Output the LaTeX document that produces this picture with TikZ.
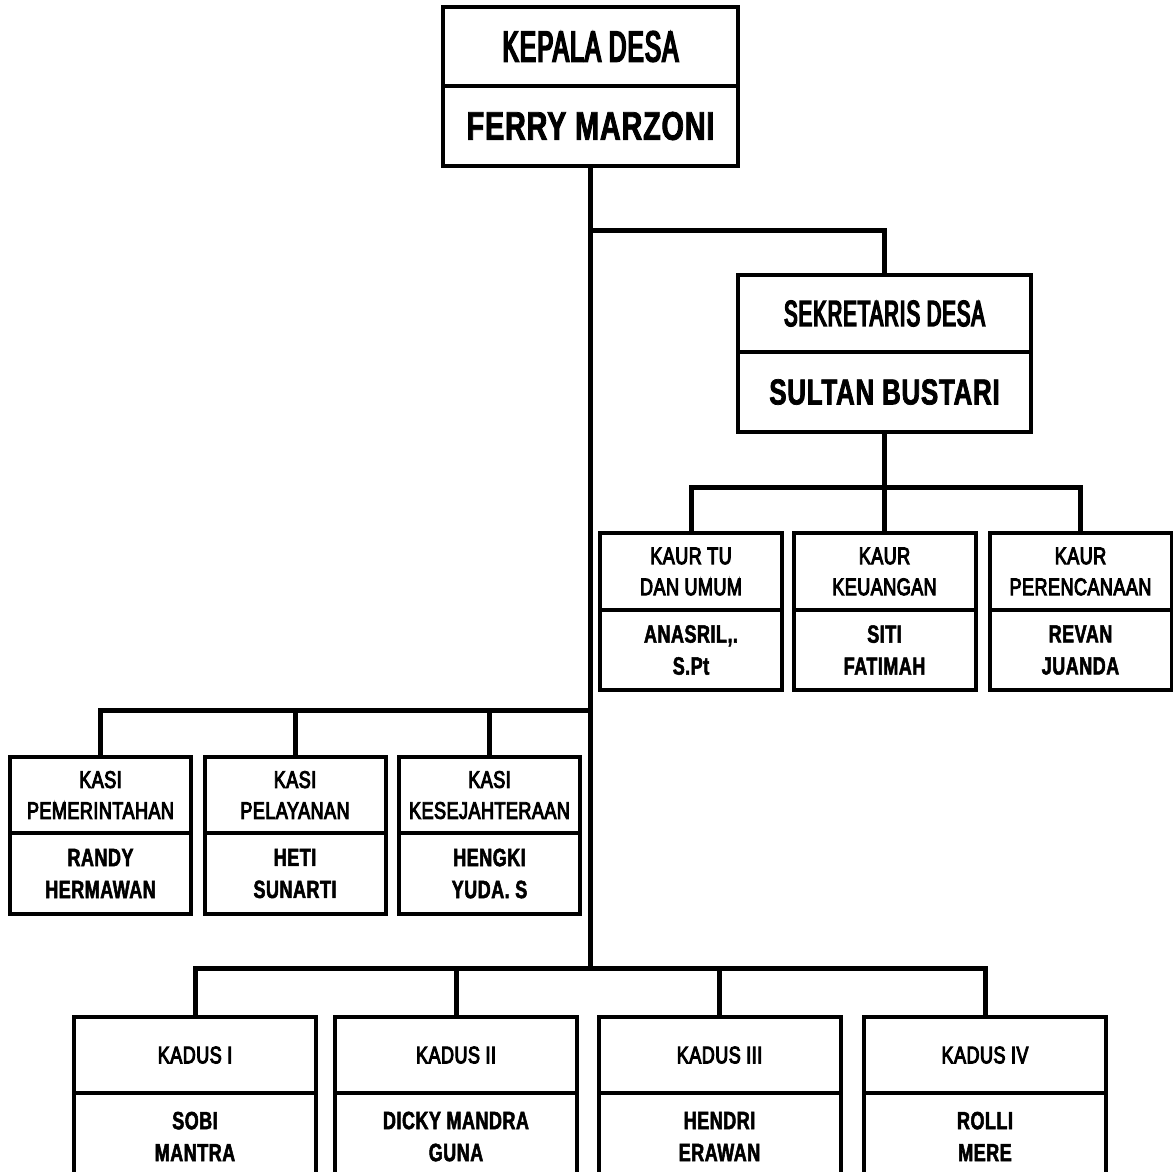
\documentclass[tikz,border=0pt]{standalone}
\usepackage{fontspec}
\setmainfont{Liberation Sans}
\newfontfamily\hurufjudul[FakeStretch=0.56,FakeBold=4.5,LetterSpace=3]{Liberation Sans}
\newfontfamily\hurufkecil[FakeStretch=0.75,FakeBold=4,LetterSpace=2]{Liberation Sans}
\newfontfamily\hurufnama[FakeStretch=0.72,FakeBold=2,LetterSpace=2]{Liberation Sans}
\usetikzlibrary{positioning}
\tikzset{
    kotak/.style={draw, line width=4pt, outer sep=0pt, inner sep=0pt, align=center},
    garis/.style={line width=5pt},
    judulbesar/.style={kotak, font=\hurufjudul\fontsize{43}{50}\selectfont},
    judulsekdes/.style={kotak, font=\hurufjudul\fontsize{36}{42}\selectfont},
    namabesar/.style={kotak, font=\hurufnama\bfseries\fontsize{40}{46}\selectfont},
    namasekdes/.style={kotak, font=\hurufnama\bfseries\fontsize{36}{42}\selectfont},
    judulkecil/.style={kotak, font=\hurufkecil\fontsize{24}{31}\selectfont},
    namakecil/.style={kotak, font=\hurufnama\bfseries\fontsize{25}{32}\selectfont}
}

\begin{document}
\begin{tikzpicture}[x=1pt,y=-1pt]
        \clip (0,0) rectangle (1173,1171);
        \fill[white] (0,0) rectangle (1173,1171);

        % ==========================================
        % Kepala Desa
        % ==========================================
        \node[judulbesar, minimum width=295pt, minimum height=79pt] (kades) at (590.5,46.5) {KEPALA DESA};
        \node[namabesar, minimum width=295pt, minimum height=80pt, below=0pt of kades] (kadesnama) {FERRY MARZONI};

        % ==========================================
        % Sekretaris Desa
        % ==========================================
        \node[judulsekdes, minimum width=293pt, minimum height=77pt] (sekdes) at (884.5,313.5) {SEKRETARIS DESA};
        \node[namasekdes, minimum width=293pt, minimum height=80pt, below=0pt of sekdes] (sekdesnama) {SULTAN BUSTARI};

        % ==========================================
        % Kaur
        % ==========================================
        \node[judulkecil, minimum width=182pt, minimum height=77pt] (kaur1) at (691,571.5) {KAUR TU\\DAN UMUM};
        \node[namakecil, minimum width=182pt, minimum height=80pt, below=0pt of kaur1] (kaur1nama) {ANASRIL,.\\S.Pt};

        \node[judulkecil, minimum width=182pt, minimum height=77pt] (kaur2) at (884.5,571.5) {KAUR\\KEUANGAN};
        \node[namakecil, minimum width=182pt, minimum height=80pt, below=0pt of kaur2] (kaur2nama) {SITI\\FATIMAH};

        \node[judulkecil, minimum width=182pt, minimum height=77pt] (kaur3) at (1080.5,571.5) {KAUR\\PERENCANAAN};
        \node[namakecil, minimum width=182pt, minimum height=80pt, below=0pt of kaur3] (kaur3nama) {REVAN\\JUANDA};

        % ==========================================
        % Kasi
        % ==========================================
        \node[judulkecil, minimum width=181pt, minimum height=76pt] (kasi1) at (100.5,795) {KASI\\PEMERINTAHAN};
        \node[namakecil, minimum width=181pt, minimum height=81pt, below=0pt of kasi1] (kasi1nama) {RANDY\\HERMAWAN};

        \node[judulkecil, minimum width=181pt, minimum height=76pt] (kasi2) at (295,795) {KASI\\PELAYANAN};
        \node[namakecil, minimum width=181pt, minimum height=81pt, below=0pt of kasi2] (kasi2nama) {HETI\\SUNARTI};

        \node[judulkecil, minimum width=181pt, minimum height=76pt] (kasi3) at (489.5,795) {KASI\\KESEJAHTERAAN};
        \node[namakecil, minimum width=181pt, minimum height=81pt, below=0pt of kasi3] (kasi3nama) {HENGKI\\YUDA. S};

        % ==========================================
        % Kadus (bottom row, cut by the page edge)
        % ==========================================
        \node[judulkecil, minimum width=242pt, minimum height=76pt] (kadus1) at (195,1055) {KADUS I};
        \node[namakecil, minimum width=242pt, minimum height=87pt, below=0pt of kadus1] (kadus1nama) {SOBI\\MANTRA};

        \node[judulkecil, minimum width=242pt, minimum height=76pt] (kadus2) at (456,1055) {KADUS II};
        \node[namakecil, minimum width=242pt, minimum height=87pt, below=0pt of kadus2] (kadus2nama) {DICKY MANDRA\\GUNA};

        \node[judulkecil, minimum width=242pt, minimum height=76pt] (kadus3) at (719.5,1055) {KADUS III};
        \node[namakecil, minimum width=242pt, minimum height=87pt, below=0pt of kadus3] (kadus3nama) {HENDRI\\ERAWAN};

        \node[judulkecil, minimum width=242pt, minimum height=76pt] (kadus4) at (985,1055) {KADUS IV};
        \node[namakecil, minimum width=242pt, minimum height=87pt, below=0pt of kadus4] (kadus4nama) {ROLLI\\MERE};

        % ==========================================
        % Connectors
        % ==========================================
        % trunk from the head down to the kadus line
        \draw[garis] (kadesnama.south) -- ++(0,802) coordinate (cabangkadus);
        \path (kadesnama.south) ++(0,544) coordinate (cabangkasi);

        % branch to sekretaris
        \draw[garis] (kadesnama.south) -- ++(0,64) -| (sekdes.north);

        % sekretaris to kaur
        \draw[garis] (sekdesnama.south) -- ++(0,55) coordinate (cabangkaur);
        \draw[garis] (cabangkaur) -| (kaur1.north);
        \draw[garis] (cabangkaur) -- (kaur2.north);
        \draw[garis] (cabangkaur) -| (kaur3.north);

        % kasi
        \draw[garis] (cabangkasi) -| (kasi1.north);
        \draw[garis] (cabangkasi) -| (kasi2.north);
        \draw[garis] (cabangkasi) -| (kasi3.north);

        % kadus
        \draw[garis] (cabangkadus) -| (kadus1.north);
        \draw[garis] (cabangkadus) -| (kadus2.north);
        \draw[garis] (cabangkadus) -| (kadus3.north);
        \draw[garis] (cabangkadus) -| (kadus4.north);

    \end{tikzpicture}
\end{document}
